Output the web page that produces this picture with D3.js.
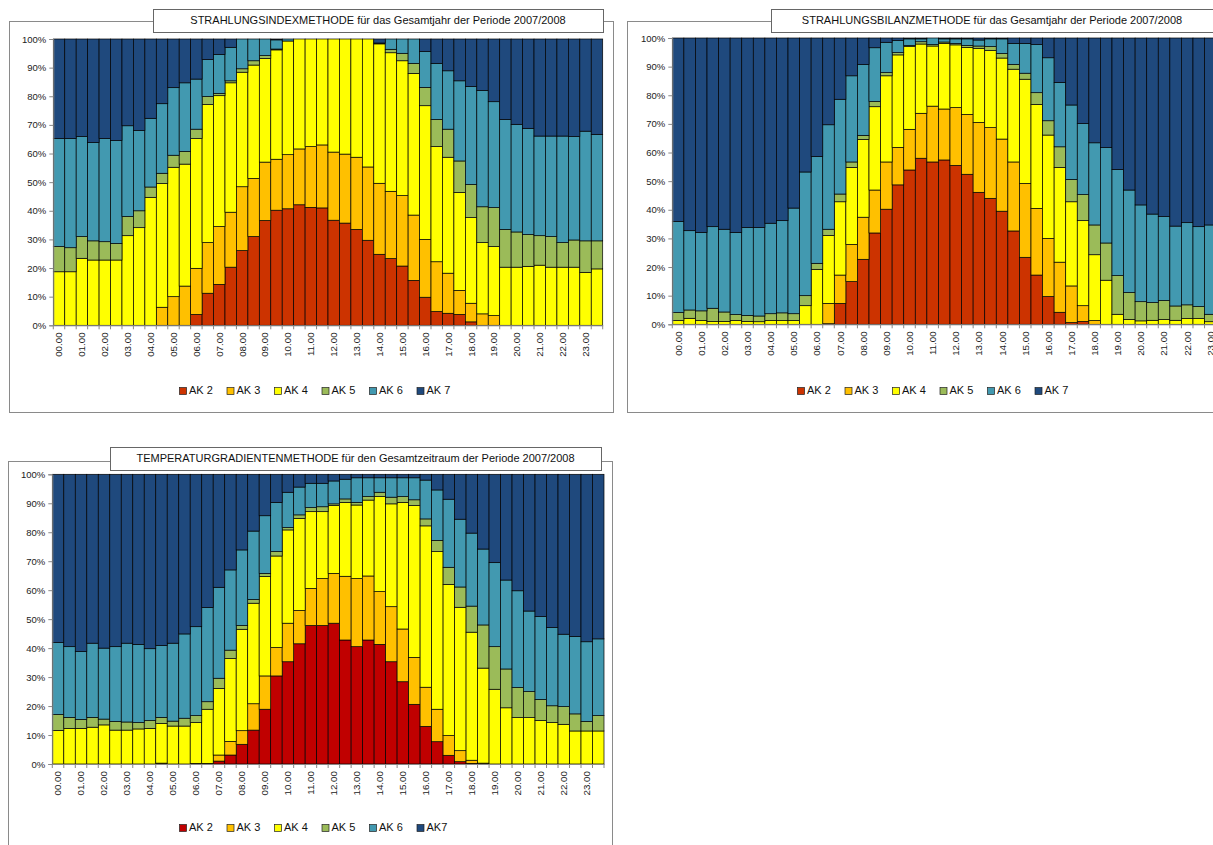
<!DOCTYPE html>
<html>
<head>
<meta charset="utf-8">
<script src="https://cdn.jsdelivr.net/npm/d3@7"></script>
<style>
body { margin: 0; background: #fff; }
svg { display: block; font-family: "Liberation Sans", Arial, sans-serif; }
</style>
</head>
<body>
<svg id="page" width="1213" height="845"></svg>
<script>
const times = ["00.00","00.30","01.00","01.30","02.00","02.30","03.00","03.30","04.00","04.30","05.00","05.30",
    "06.00","06.30","07.00","07.30","08.00","08.30","09.00","09.30","10.00","10.30","11.00","11.30",
    "12.00","12.30","13.00","13.30","14.00","14.30","15.00","15.30","16.00","16.30","17.00","17.30",
    "18.00","18.30","19.00","19.30","20.00","20.30","21.00","21.30","22.00","22.30","23.00","23.30"];
const keys = ["AK 2", "AK 3", "AK 4", "AK 5", "AK 6", "AK 7"];
const yTicks = [0, 0.1, 0.2, 0.3, 0.4, 0.5, 0.6, 0.7, 0.8, 0.9, 1];

// STRAHLUNGSINDEXMETHODE (percent per class)
const siAK2 = [0,0,0,0,0,0,0,0,0,0,0,0, 3.8,11.2,14.3,20.3,26.1,31,36.6,40.2,40.7,42.1,41.2,41,
    36.7,35.7,33.5,29.7,24.8,23.3,20.7,15.7,9.8,4.8,4.2,3.8, 1.2,0,0,0,0,0,0,0,0,0,0,0];
const siAK3 = [0,0,0,0,0,0,0,0,0,6.3,10,13.7, 16.1,17.7,20.2,19.2,22.3,20.3,20.4,17.8,18.9,19.5,21.2,22,
    23.8,24.1,25.2,25.6,24.8,23.5,24.6,22.8,20.2,17.4,14,8.4, 6.5,4,3.4,0,0,0,0,0,0,0,0,0];
const siAK4 = [18.7,18.7,23.4,22.8,22.8,22.8,31.3,34.1,44.7,43.2,45.2,42.6, 45.3,48.2,45.7,45.2,40,39.6,36.2,38.2,39.7,38.4,37.6,37,
    39.5,40.2,41.3,44.7,48.7,48.4,47.1,49.5,46.7,40.2,40.5,34.2, 29.9,24.9,24.1,20.3,20.3,20.6,21,20.3,20.3,20.3,18.5,19.7];
const siAK5 = [8.8,8.4,7.6,6.7,6.4,5.8,6.7,5.9,3.6,3.6,4.2,4.4, 3.3,2.8,0.8,0.7,1.2,1.5,1,0.3,0,0,0,0,
    0,0,0,0,0,1.2,2.6,3.5,6.4,9.5,9.8,11, 11.6,12.5,13.6,13.2,12.3,11.1,10.3,10.7,8.6,9.5,11,9.8];
const siAK6 = [37.7,38.1,34.9,34.3,36,35.9,31.7,28,24,24.3,23.6,24, 17.5,12.9,13.6,11.7,10.4,7.6,5.8,3.2,0.7,0,0,0,
    0,0,0,0,0.3,3.6,5,8.5,12.5,19.6,20.4,28, 34.2,40.6,37,38.4,37.6,37.1,34.8,35.1,37.2,36.1,38.3,37.2];
const siAK7 = [34.8,34.8,34.1,36.2,34.8,35.5,30.3,32,27.7,22.6,17,15.3, 14,7.2,5.4,2.9,0,0,0,0.3,0,0,0,0,
    0,0,0,0,1.4,0,0,0,4.4,8.5,11.1,14.6, 16.6,18,21.9,28.1,29.8,31.2,33.9,33.9,33.9,34.1,32.2,33.3];

// STRAHLUNGSBILANZMETHODE
const sbAK2 = [0,0,0,0,0,0,0,0,0,0,0,0, 0,0.2,7.3,14.9,22.7,31.9,40.2,48.7,53.9,58,56.7,57.4,
    55.5,52.4,46.1,44,39.5,32.6,23.4,17.2,9.7,4.2,0.6,1, 0,0,0,0,0,0,0,0,0,0,0,0];
const sbAK3 = [0,0,0,0,0,0,0,0,0,0,0,0, 0,7.1,9.9,13,14.7,15,16.5,13.1,14.2,15.7,19.5,17.8,
    20.2,20.9,24.4,24.7,25.2,24.1,25.8,23.3,20.3,17.5,12.8,5.5, 1.3,0,0,0,0,0,0,0,0,0,0,0];
const sbAK4 = [1.3,2.1,1.3,1,1,1.3,1,0.9,1.3,1.3,1.3,6.5, 19.2,23.7,25.6,26.9,27.2,29.1,30.1,32.3,28.9,24.2,21,22.9,
    21.9,23.4,25.9,26.9,28.3,32.4,36.4,36.3,36.1,33.1,29.4,29.7, 23,15.4,3.5,1.7,1.2,1.4,1.7,1.4,2,2,0.9,1];
const sbAK5 = [2.8,2.9,3.4,4.6,3.3,2.1,2.1,2,2.4,2.7,2.4,3.5, 2.1,2.2,2.7,1.9,1.4,1.8,1.1,0.8,0.4,0.8,0.5,0.5,
    0.5,0.7,0.8,1.4,1.6,1.7,2.1,4.1,5,7.2,7.8,9.1, 10.4,13,13.5,9.4,6.7,6.2,6.6,5,4.8,4.2,2.6,2.8];
const sbAK6 = [31.8,27.7,27.4,28.5,28.9,28.7,30.7,30.9,31.6,32.2,36.9,43.2, 37.3,36.5,33.1,30.1,24.7,18.8,10.6,4.2,2.3,1,2.3,1.1,
    1.6,2.3,2.1,2.7,5.1,7.3,10.4,16.8,22,22.5,26,24.8, 28.7,33.3,37.1,35.8,33.8,30.9,29.3,27.9,28.7,27.9,31.2,30.7];
const sbAK7 = [64.1,67.3,67.9,65.9,66.8,67.9,66.2,66.2,64.7,63.8,59.4,46.8, 41.4,30.3,21.4,13.2,9.3,3.4,1.5,0.9,0.3,0.3,0,0.3,
    0.3,0.3,0.7,0.3,0.3,1.9,1.9,2.3,6.9,15.5,23.4,29.9, 36.6,38.3,45.9,53.1,58.3,61.5,62.4,65.7,64.5,65.9,65.3,65.5];

// TEMPERATURGRADIENTENMETHODE
const tgAK2 = [0,0,0,0,0,0,0,0,0,0,0,0, 0,0,1,3.1,6.8,11.7,18.9,30.4,35.3,41.5,47.8,47.8,
    48.6,42.8,40.5,42.8,41.3,35.3,28.4,20.6,13,7.7,3,0.8, 0.2,0,0,0,0,0,0,0,0,0,0,0];
const tgAK3 = [0,0,0,0,0,0,0,0,0,0.3,0,0, 0.2,0.2,2.1,4.7,4.7,9.1,11.5,9.8,13.3,11.5,12.8,16.2,
    17.2,22,23.5,22.1,18.2,19,18.2,16.2,13.5,11.2,6.8,3.8, 1.1,0.3,0,0,0,0,0,0,0,0,0,0];
const tgAK4 = [11.6,12.3,12.3,12.7,13.5,11.7,11.7,12.1,12.3,13.7,13.1,13.1, 14.1,18.7,23,28.6,35,34.7,34.3,31.6,32.2,31.8,26.5,23.1,
    23.4,25.5,25.4,26.2,32.8,35.5,43.7,52.4,55.7,54.4,52.2,49.5, 44.2,32.8,25.8,19.4,16,16,15,14.3,13.7,11.4,11.4,11.4];
const tgAK5 = [5.5,3.8,3.1,3.4,2,3,2.8,2.2,2.7,2.1,1.7,2.7, 2.4,2.6,3.5,2.9,1.3,1.3,1.1,1.5,0.8,1.2,1.4,1.7,
    0.6,1.2,0.9,1.2,1.5,2.3,2,2,2.4,3.9,5.9,7, 9,14.9,14.7,13.4,10.4,9,7.3,5.8,6.1,5.9,3.3,5.3];
const tgAK6 = [24.8,24.4,23.4,25.6,24.5,25.8,27.2,27,24.8,24.8,26.9,29.1, 30.7,32.5,31.4,27.7,26.1,23.6,19.9,17,12.2,9.6,8.4,8.1,
    7.9,6.8,8.5,6.5,5,6.7,6.5,7.6,13.4,17.4,23.5,23.4, 25.2,26.2,29,30.7,33.4,27.8,28.6,27,25,26.7,27.5,26.5];
const tgAK7 = [58.1,59.5,61.2,58.3,60,59.5,58.3,58.7,60.2,59.1,58.3,55.1, 52.6,46,39,33,26.1,19.6,14.3,9.7,6.2,4.4,3.1,3.1,
    2.3,1.7,1.2,1.2,1.2,1.2,1.2,1.2,2,5.4,8.6,15.5, 20.3,25.8,30.5,36.5,40.2,47.2,49.1,52.9,55.2,56,57.8,56.8];

const colorsA = ["#CC3300", "#FFC000", "#FFFF00", "#9BBB59", "#4299B0", "#1F497D"];
const colorsB = ["#C00000", "#FFC000", "#FFFF00", "#9BBB59", "#4299B0", "#1F497D"];

function rows(series) {
    return times.map((t, i) => {
        const r = { time: t };
        keys.forEach((k, j) => r[k] = series[j][i]);
        return r;
    });
}

const charts = [
    {
        title: "STRAHLUNGSINDEXMETHODE für das Gesamtjahr der Periode 2007/2008",
        data: rows([siAK2, siAK3, siAK4, siAK5, siAK6, siAK7]),
        colors: colorsA,
        legend: keys,
        frame: [9, 21, 604, 391],
        titleBox: [153, 9, 450, 23],
        plot: [53.3, 39, 602.7, 325.3],
        legendAt: [179, 391]
    },
    {
        title: "STRAHLUNGSBILANZMETHODE für das Gesamtjahr der Periode 2007/2008",
        data: rows([sbAK2, sbAK3, sbAK4, sbAK5, sbAK6, sbAK7]),
        colors: colorsA,
        legend: keys,
        frame: [627, 21, 620, 391],
        titleBox: [771, 9, 442, 23],
        plot: [672.3, 38, 1227.7, 324.3],
        legendAt: [797, 391]
    },
    {
        title: "TEMPERATURGRADIENTENMETHODE für den Gesamtzeitraum der Periode 2007/2008",
        data: rows([tgAK2, tgAK3, tgAK4, tgAK5, tgAK6, tgAK7]),
        colors: colorsB,
        legend: ["AK 2", "AK 3", "AK 4", "AK 5", "AK 6", "AK7"],
        frame: [8, 461, 604, 400],
        titleBox: [110, 447, 491, 23],
        plot: [52.3, 474.3, 604, 764],
        legendAt: [179, 828]
    }
];

const svg = d3.select('#page');

function drawChart(c) {
    const g = svg.append('g');
    g.append('rect').attr('x', c.frame[0] + 0.5).attr('y', c.frame[1] + 0.5)
        .attr('width', c.frame[2]).attr('height', c.frame[3])
        .attr('fill', '#fff').attr('stroke', '#8a8a8a').attr('stroke-width', 1);

    const [x0, y0, x1, y1] = c.plot;
    const x = d3.scaleBand().domain(times).range([x0, x1]).padding(0);
    const y = d3.scaleLinear().domain([0, 1]).range([y1, y0]);
    const stack = d3.stack().keys(keys).offset(d3.stackOffsetExpand);
    const layers = stack(c.data);

    g.selectAll('.layer').data(layers).join('g').classed('layer', true)
        .attr('fill', (_, i) => c.colors[i])
        .selectAll('rect').data(d => d.filter(s => s[1] - s[0] > 0.0005)).join('rect')
        .attr('x', d => x(d.data.time))
        .attr('y', d => y(d[1]))
        .attr('width', x.bandwidth())
        .attr('height', d => y(d[0]) - y(d[1]))
        .attr('stroke', '#000').attr('stroke-width', 0.7);

    // y axis
    const ya = g.append('g').attr('transform', `translate(${x0},0)`)
        .call(d3.axisLeft(y).tickValues(yTicks).tickFormat(d3.format('.0%')).tickSize(4).tickPadding(3));
    ya.select('.domain').attr('stroke', '#888');
    ya.selectAll('.tick line').attr('stroke', '#888');
    ya.selectAll('text').attr('font-size', 9.5).attr('fill', '#222')
        .attr('font-family', '"Liberation Sans", Arial, sans-serif');

    // x axis: labels on full hours, ticks at every bar boundary
    const xa = g.append('g').attr('transform', `translate(0,${y1})`)
        .call(d3.axisBottom(x).tickSize(0).tickFormat((d, i) => i % 2 === 0 ? d : ''));
    xa.select('.domain').attr('stroke', '#888');
    xa.selectAll('text')
        .attr('transform', 'rotate(-90)')
        .attr('x', -7).attr('y', 0).attr('dy', '0.35em')
        .attr('text-anchor', 'end')
        .attr('font-size', 9.8).attr('fill', '#222')
        .attr('font-family', '"Liberation Sans", Arial, sans-serif');
    g.selectAll('.xtick').data(times.concat(['end'])).join('line').classed('xtick', true)
        .attr('x1', d => d === 'end' ? x1 : x(d)).attr('x2', d => d === 'end' ? x1 : x(d))
        .attr('y1', y1).attr('y2', y1 + 4)
        .attr('stroke', '#888');

    // title box
    const [tx, ty, tw, th] = c.titleBox;
    g.append('rect').attr('x', tx + 0.5).attr('y', ty + 0.5).attr('width', tw).attr('height', th)
        .attr('fill', '#fff').attr('stroke', '#666');
    g.append('text').attr('x', tx + tw / 2).attr('y', ty + th / 2 + 1)
        .attr('text-anchor', 'middle').attr('dominant-baseline', 'middle')
        .attr('font-size', 11).attr('fill', '#111').text(c.title);

    // legend
    const lg = g.append('g').attr('transform', `translate(${c.legendAt[0]},${c.legendAt[1]})`);
    const items = lg.selectAll('g').data(c.legend).join('g')
        .attr('transform', (_, i) => `translate(${i * 47.5},0)`);
    items.append('rect').attr('x', 0.5).attr('y', -3.5).attr('width', 7).attr('height', 7)
        .attr('fill', (_, i) => c.colors[i]).attr('stroke', '#222').attr('stroke-width', 0.7);
    items.append('text').attr('x', 10).attr('y', 0).attr('dominant-baseline', 'middle')
        .attr('font-size', 11).attr('fill', '#111').text(d => d);
}

charts.forEach(drawChart);
</script>
</body>
</html>
